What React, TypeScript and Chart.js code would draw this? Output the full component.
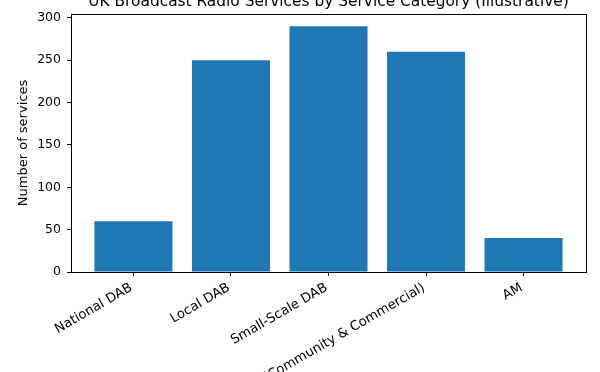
import React, { useEffect, useRef } from "react";
import { Chart, registerables } from "chart.js";

Chart.register(...registerables);

const categories = [
  "National DAB",
  "Local DAB",
  "Small-Scale DAB",
  "FM (Community & Commercial)",
  "AM",
];
const services = [60, 250, 290, 260, 40];
const yTicks = [0, 50, 100, 150, 200, 250, 300];
const titleText = "UK Broadcast Radio Services by Service Category (Illustrative)";
const yLabel = "Number of services";

const FONT = "'DejaVu Sans', sans-serif";

export default function App() {
  const ref = useRef<HTMLCanvasElement | null>(null);

  useEffect(() => {
    if (!ref.current) return;
    const framePlugin = {
      id: "frame",
      afterDraw(chart: any) {
        const { ctx, chartArea } = chart;
        ctx.save();
        ctx.strokeStyle = "#000";
        ctx.lineWidth = 1;
        ctx.strokeRect(
          Math.round(chartArea.left) + 0.5,
          Math.round(chartArea.top) + 0.5,
          Math.round(chartArea.right - chartArea.left),
          Math.round(chartArea.bottom - chartArea.top)
        );
        ctx.fillStyle = "#000";
        ctx.font = `15.4px ${FONT}`;
        ctx.textAlign = "center";
        ctx.textBaseline = "alphabetic";
        ctx.fillText(titleText, (chartArea.left + chartArea.right) / 2, 6);
        ctx.restore();
      },
    };

    const chart = new Chart(ref.current, {
      type: "bar",
      data: {
        datasets: [
          {
            data: services.map((v, i) => ({ x: i, y: v })),
            backgroundColor: "#1f77b4",
            borderWidth: 0,
            barPercentage: 0.8,
            categoryPercentage: 1,
          },
        ],
      },
      options: {
        animation: false,
        responsive: false,
        maintainAspectRatio: false,
        layout: { padding: { top: 14, right: 14, left: 0, bottom: 0 } },
        plugins: {
          legend: { display: false },
          tooltip: { enabled: false },
          title: { display: false },
        },
        scales: {
          x: {
            type: "linear",
            min: -0.64,
            max: 4.64,
            offset: false,
            afterBuildTicks: (scale: any) => {
              scale.ticks = categories.map((_, i) => ({ value: i }));
            },
            afterFit: (scale: any) => {
              scale.height = 100;
            },
            grid: {
              offset: false,
              drawOnChartArea: false,
              drawTicks: true,
              tickLength: 4,
              color: "#000",
            },
            border: { display: true, color: "#000" },
            ticks: {
              autoSkip: false,
              minRotation: 30,
              maxRotation: 30,
              color: "#000",
              font: { family: FONT, size: 13.2 },
              padding: 4,
              labelOffset: -2,
              callback: (v: any) => categories[v as number] ?? "",
            },
          },
          y: {
            min: 0,
            max: 304.5,
            afterBuildTicks: (scale: any) => {
              scale.ticks = yTicks.map((v) => ({ value: v }));
            },
            afterFit: (scale: any) => {
              scale.width = 71;
            },
            grid: {
              drawOnChartArea: false,
              drawTicks: true,
              tickLength: 4,
              color: "#000",
            },
            border: { display: true, color: "#000" },
            ticks: {
              color: "#000",
              font: { family: FONT, size: 12.5 },
              padding: 6,
            },
            title: {
              display: true,
              text: yLabel,
              color: "#000",
              font: { family: FONT, size: 13 },
              padding: { top: 16, bottom: 0 },
            },
          },
        },
      },
      plugins: [framePlugin],
    });
    return () => chart.destroy();
  }, []);

  return (
    <div style={{ position: "absolute", left: 0, top: 0, width: 600, height: 372, background: "#fff" }}>
      <canvas ref={ref} width={600} height={372} style={{ display: "block", width: 600, height: 372 }} />
    </div>
  );
}
